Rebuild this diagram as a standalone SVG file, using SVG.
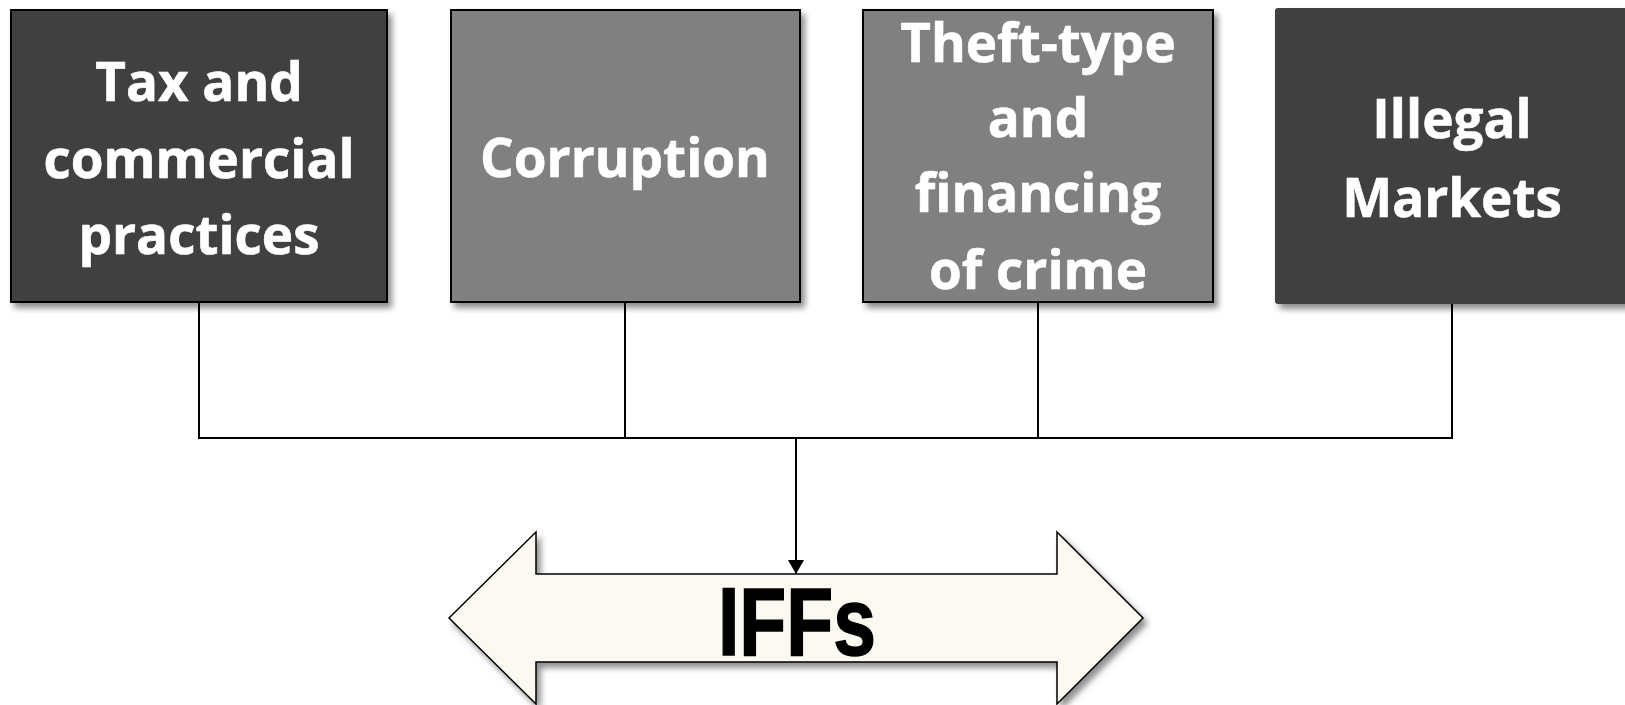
<svg xmlns="http://www.w3.org/2000/svg" width="1625" height="705" viewBox="0 0 1625 705">
  <defs>
    <filter id="shadow" x="-10%" y="-10%" width="130%" height="130%">
      <feGaussianBlur in="SourceAlpha" stdDeviation="3"/>
      <feOffset dx="4" dy="5" result="b"/>
      <feComponentTransfer><feFuncA type="linear" slope="0.45"/></feComponentTransfer>
      <feMerge><feMergeNode/><feMergeNode in="SourceGraphic"/></feMerge>
    </filter>
    <marker id="arrow" viewBox="0 0 14 16" refX="14" refY="8" markerWidth="14" markerHeight="16" markerUnits="userSpaceOnUse" orient="auto">
      <path d="M0,0 L14,8 L0,16 Z" fill="#000"/>
    </marker>
  </defs>
  <style>
    .box { stroke: #000; stroke-width: 2; }
    .dark { fill: #404040; }
    .mid { fill: #808080; }
    .label { font-family: "Open Sans", "Liberation Sans", sans-serif; font-weight: bold; font-size: 53px; fill: #fff; text-anchor: middle; stroke: #fff; stroke-width: 0.6; }
    .conn { stroke: #000; stroke-width: 2; fill: none; }
  </style>
  <rect width="1625" height="705" fill="#fff"/>

  <g id="node-tax">
    <rect class="box dark" x="11" y="10" width="376" height="292" filter="url(#shadow)"/>
    <text class="label" x="199" y="101">Tax and</text>
    <text class="label" x="199" y="178">commercial</text>
    <text class="label" x="199" y="254">practices</text>
  </g>

  <g id="node-corruption">
    <rect class="box mid" x="451" y="10" width="349" height="292" filter="url(#shadow)"/>
    <text class="label" x="625" y="177">Corruption</text>
  </g>

  <g id="node-theft">
    <rect class="box mid" x="863" y="10" width="350" height="292" filter="url(#shadow)"/>
    <text class="label" x="1038" y="62">Theft-type</text>
    <text class="label" x="1038" y="137">and</text>
    <text class="label" x="1038" y="212">financing</text>
    <text class="label" x="1038" y="289">of crime</text>
  </g>

  <g id="node-illegal">
    <rect class="dark" x="1275" y="8" width="370" height="296" rx="3" filter="url(#shadow)"/>
    <text class="label" x="1452" y="138">Illegal</text>
    <text class="label" x="1452" y="217">Markets</text>
  </g>

  <g id="connectors">
    <line class="conn" x1="199" y1="302" x2="199" y2="438"/>
    <line class="conn" x1="625" y1="302" x2="625" y2="438"/>
    <line class="conn" x1="1038" y1="302" x2="1038" y2="438"/>
    <line class="conn" x1="1452" y1="304" x2="1452" y2="438"/>
    <line class="conn" x1="198" y1="438" x2="1453" y2="438"/>
    <line class="conn" x1="796" y1="438" x2="796" y2="574" marker-end="url(#arrow)"/>
  </g>

  <g id="node-iffs">
    <path d="M449,618 L536,532 L536,574 L1057,574 L1057,532 L1143,618 L1057,704 L1057,662 L536,662 L536,704 Z" fill="#FBF9F1" stroke="#000" stroke-width="1.5" stroke-linejoin="miter" filter="url(#shadow)"/>
    <text x="797" y="655" font-family="'Liberation Sans', sans-serif" font-weight="bold" font-size="96" fill="#000" stroke="#000" stroke-width="1.5" text-anchor="middle" textLength="158" lengthAdjust="spacingAndGlyphs">IFFs</text>
  </g>
</svg>
